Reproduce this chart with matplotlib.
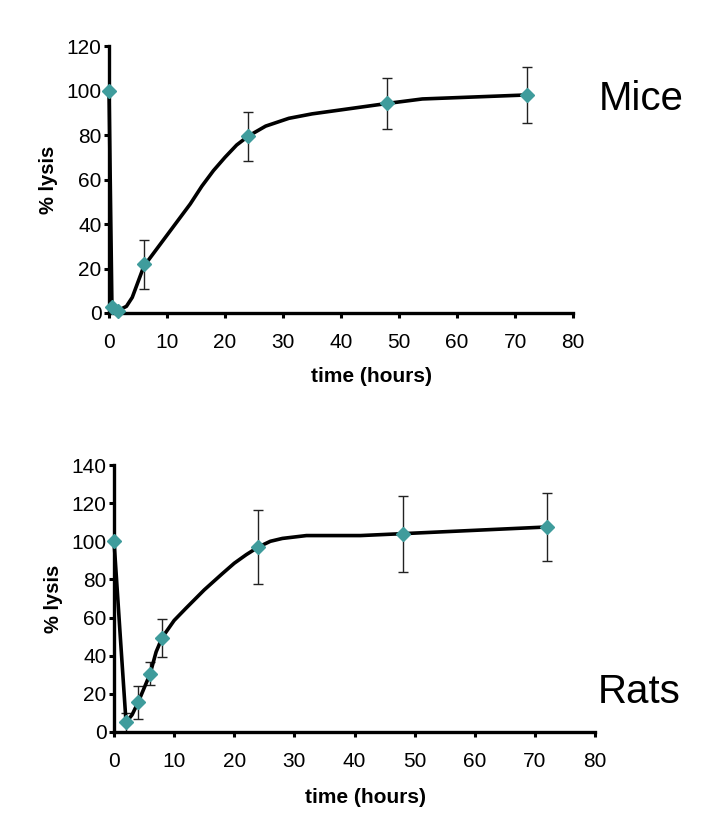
import matplotlib
matplotlib.use("Agg")
import matplotlib.pyplot as plt

plt.rcParams['font.family'] = ['Liberation Sans', 'DejaVu Sans']

# measured points (hours, % lysis, error)
mice_t = [0, 0.5, 1.5, 6, 24, 48, 72]
mice_y = [100, 2.5, 1, 22, 79.5, 94.2, 98]
mice_err = [0, 0, 0, 11, 11, 11.5, 12.5]

# line drawn through the points
mice_curve_t = [0, 0.5, 1.5, 3, 4, 6, 8, 10, 12, 14, 16, 18, 20, 22, 24, 27, 31, 35, 40, 48, 54, 62, 72]
mice_curve_y = [100, 2.5, 1, 3, 7, 21, 28, 35, 42, 49, 57, 64, 70, 75.5, 79.5, 84, 87.5, 89.5, 91.3, 94.2, 96.2, 97, 98]

rats_t = [0, 2, 4, 6, 8, 24, 48, 72]
rats_y = [100, 5, 15.5, 30.5, 49.5, 97, 104, 107.5]
rats_err = [0, 5, 8.5, 6, 10, 19.5, 20, 18]

rats_curve_t = [0, 1, 2, 3, 4, 6, 7, 8, 10, 12, 15, 18, 20, 22, 24, 26, 28, 32, 41, 48, 72]
rats_curve_y = [100, 52, 5, 9, 15.5, 30.5, 42, 49.5, 58.5, 65, 74.5, 83, 88.5, 93, 97, 100, 101.5, 103, 103, 104, 107.5]

teal = '#3F9C9C'

fig = plt.figure(figsize=(7.24, 8.32), dpi=100)
ax1 = fig.add_axes([0.1506, 0.6238, 0.641, 0.3209])
ax2 = fig.add_axes([0.1575, 0.1202, 0.6644, 0.3209])


def style(ax, ymax, xlab_x, xlab_pad):
    ax.set_xlim(0, 80)
    ax.set_ylim(0, ymax)
    ax.set_xticks(range(0, 81, 10))
    ax.set_yticks(range(0, ymax + 1, 20))
    for s in ['top', 'right']:
        ax.spines[s].set_visible(False)
    for s in ['left', 'bottom']:
        ax.spines[s].set_linewidth(2.4)
    ax.tick_params(axis='both', direction='out', length=3.5, width=2.2, labelsize=15, pad=2)
    ax.tick_params(axis='x', pad=11)
    ax.set_xlabel('time (hours)', fontsize=15, fontweight='bold', labelpad=xlab_pad, x=xlab_x)
    ax.set_ylabel('% lysis', fontsize=14.5, fontweight='bold', labelpad=6)


def draw(ax, ct, cy, t, y, err):
    ax.errorbar(t, y, yerr=err, fmt='none', ecolor='#222222', elinewidth=1.0,
                capsize=3.5, capthick=1.0, zorder=2, clip_on=False)
    ax.plot(ct, cy, color='black', lw=2.6, zorder=3, clip_on=False)
    ax.plot(t, y, linestyle='none', marker='D', markersize=7.5, color=teal,
            markeredgecolor=teal, zorder=4, clip_on=False)


style(ax1, 120, 0.566, 11)
draw(ax1, mice_curve_t, mice_curve_y, mice_t, mice_y, mice_err)
fig.text(0.885, 0.868, 'Mice', fontsize=29, ha='center', va='baseline')

style(ax2, 140, 0.522, 12)
draw(ax2, rats_curve_t, rats_curve_y, rats_t, rats_y, rats_err)
fig.text(0.883, 0.155, 'Rats', fontsize=29, ha='center', va='baseline')

fig.savefig('out.png', dpi=100)
